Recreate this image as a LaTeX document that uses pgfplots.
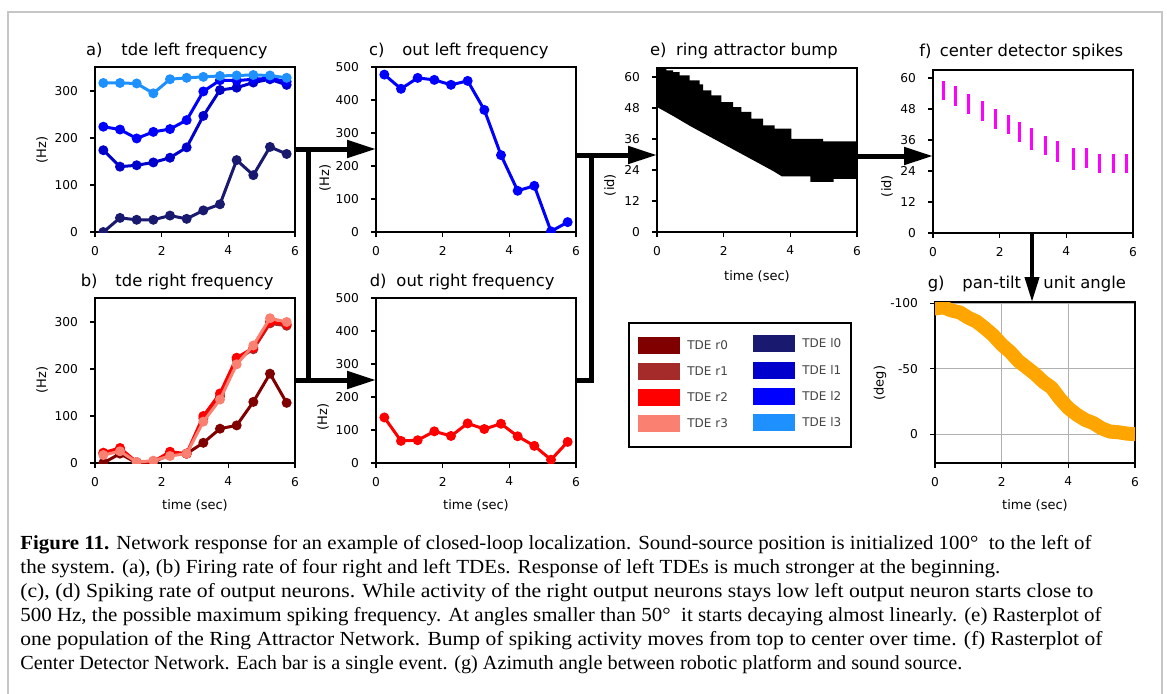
\documentclass[border=0pt]{standalone}
\usepackage{fontspec}
\setmainfont{DejaVu Sans}
\newfontfamily\capfont{Liberation Serif}
\usepackage{graphicx}
\usepackage{pgfplots}
\pgfplotsset{compat=1.18}
\usetikzlibrary{arrows.meta}

\definecolor{tder0}{HTML}{800000}
\definecolor{tder1}{HTML}{A52A2A}
\definecolor{tder2}{HTML}{FF0000}
\definecolor{tder3}{HTML}{FA8072}
\definecolor{tdel0}{HTML}{191970}
\definecolor{tdel1}{HTML}{0000CD}
\definecolor{tdel2}{HTML}{0000FF}
\definecolor{tdel3}{HTML}{1E90FF}
\definecolor{mplorange}{HTML}{FFA500}
\definecolor{mplmagenta}{HTML}{FF00FF}
\definecolor{mplgrid}{HTML}{B0B0B0}
\definecolor{legtext}{HTML}{444444}

\pgfplotsset{
  panel/.style={
    scale only axis, width=100pt,
    xmin=0, xmax=6, xtick={0,2,4,6},
    xtick pos=lower, ytick pos=left,
    tick align=outside, major tick length=2.5pt,
    axis line style={line width=0.7pt},
    every tick/.style={black, line width=0.6pt},
    tick label style={font=\fontsize{6.1}{7}\selectfont},
    xticklabel style={yshift=-1pt},
    yticklabel style={xshift=-2.5pt},
    /pgf/number format/assume math mode=true,
    clip marker paths=true,
  },
  ln/.style={line width=1.5pt, mark=*, mark size=1.7pt, mark options={solid}},
}

% squeeze a caption line to the width it has in the figure
\newcommand\fitline[2]{\setbox0=\hbox{\capfont\fontsize{10}{12}\selectfont #2}%
  \pgfmathsetmacro\sx{#1/\the\wd0}\scalebox{\sx}[1]{\box0}}

\newcommand\ttl{\fontsize{8.2}{9}\selectfont}
\newcommand\lbl{\fontsize{6.5}{7}\selectfont}

\begin{document}
\begin{tikzpicture}

% a) tde left frequency
\begin{axis}[panel, at={(47.5pt,-116pt)}, anchor=south west, height=82.5pt,
  ymin=0, ymax=351, ytick={0,100,200,300}]
\addplot[ln, tdel0] coordinates {(0.25,0) (0.75,30) (1.25,26) (1.75,26) (2.25,35) (2.75,28)
  (3.25,46) (3.75,59) (4.25,153) (4.75,121) (5.25,181) (5.75,166)};
\addplot[ln, tdel1] coordinates {(0.25,174) (0.75,139) (1.25,142) (1.75,148) (2.25,158) (2.75,180)
  (3.25,247) (3.75,302) (4.25,307) (4.75,318) (5.25,325) (5.75,313)};
\addplot[ln, tdel2] coordinates {(0.25,224) (0.75,218) (1.25,199) (1.75,213) (2.25,219) (2.75,238)
  (3.25,299) (3.75,323) (4.25,322) (4.75,325) (5.25,327) (5.75,320)};
\addplot[ln, tdel3] coordinates {(0.25,317) (0.75,317) (1.25,316) (1.75,295) (2.25,325) (2.75,328)
  (3.25,330) (3.75,332) (4.25,333) (4.75,334) (5.25,333) (5.75,328)};
\end{axis}

% b) tde right frequency
\begin{axis}[panel, at={(47.5pt,-231.5pt)}, anchor=south west, height=82.5pt,
  ymin=0, ymax=351, ytick={0,100,200,300}]
\addplot[ln, tder0] coordinates {(0.25,0) (0.75,20) (1.25,0) (1.75,2) (2.25,18) (2.75,20)
  (3.25,43) (3.75,73) (4.25,80) (4.75,130) (5.25,190) (5.75,128)};
\addplot[ln, tder1] coordinates {(0.25,20) (0.75,28) (1.25,1) (1.75,3) (2.25,20) (2.75,20)
  (3.25,95) (3.75,142) (4.25,220) (4.75,242) (5.25,297) (5.75,292)};
\addplot[ln, tder2] coordinates {(0.25,22) (0.75,32) (1.25,2) (1.75,3) (2.25,24) (2.75,20)
  (3.25,100) (3.75,148) (4.25,224) (4.75,245) (5.25,300) (5.75,295)};
\addplot[ln, tder3] coordinates {(0.25,17) (0.75,25) (1.25,2) (1.75,5) (2.25,15) (2.75,20)
  (3.25,88) (3.75,135) (4.25,210) (4.75,250) (5.25,308) (5.75,300)};
\end{axis}

% c) out left frequency
\begin{axis}[panel, at={(188pt,-116pt)}, anchor=south west, height=82.5pt,
  ymin=0, ymax=500, ytick={0,100,200,300,400,500}]
\addplot[ln, tdel2] coordinates {(0.25,477) (0.75,434) (1.25,467) (1.75,461) (2.25,446) (2.75,458)
  (3.25,370) (3.75,233) (4.25,125) (4.75,140) (5.25,2) (5.75,30)};
\end{axis}

% d) out right frequency
\begin{axis}[panel, at={(188pt,-231.5pt)}, anchor=south west, height=82.5pt,
  ymin=0, ymax=500, ytick={0,100,200,300,400,500}]
\addplot[ln, tder2] coordinates {(0.25,138) (0.75,67) (1.25,69) (1.75,96) (2.25,82) (2.75,120)
  (3.25,103) (3.75,119) (4.25,81) (4.75,52) (5.25,10) (5.75,64)};
\end{axis}

% e) ring attractor bump
\begin{axis}[panel, at={(328.5pt,-116pt)}, anchor=south west, height=82pt,
  ymin=0, ymax=63.5, ytick={0,12,24,36,48,60}]
\addplot[fill=black, draw=none] coordinates {
  (0,64) (0.28,64) (0.28,62.6) (0.48,62.6) (0.48,61.9) (0.68,61.9) (0.68,60.6)
  (0.98,60.6) (0.98,58.7) (1.28,58.7) (1.28,57.2) (1.38,57.2) (1.38,54.8)
  (1.63,54.8) (1.63,52.9) (1.93,52.9) (1.93,50.3) (2.28,50.3) (2.28,48.4)
  (2.53,48.4) (2.53,46.5) (2.83,46.5) (2.83,43.9) (3.18,43.9) (3.18,41.3)
  (3.53,41.3) (3.53,40) (4.03,40) (4.03,36.1) (4.98,36.1) (4.98,35.1) (6,35.1)
  (6,20.6) (5.3,20.6) (5.3,19.4) (4.6,19.4) (4.6,21.5) (3.75,21.5) (3.5,23.5)
  (3,27) (2.5,30.5) (2,34) (1.5,37.5) (1,41) (0.5,44.8) (0,48.4)};
\end{axis}

% f) center detector spikes
\begin{axis}[panel, at={(466.5pt,-116.5pt)}, anchor=south west, height=81.5pt,
  ymin=0, ymax=63.1, ytick={0,12,24,36,48,60}]
\addplot[mplmagenta, line width=1.5pt, unbounded coords=jump] coordinates {
  (0.30,51.4) (0.30,59.0) (0.30,nan)
  (0.67,49.3) (0.67,56.8) (0.67,nan)
  (1.05,46.2) (1.05,53.9) (1.05,nan)
  (1.47,43.2) (1.47,51.0) (1.47,nan)
  (1.88,40.3) (1.88,48.0) (1.88,nan)
  (2.25,38.3) (2.25,45.8) (2.25,nan)
  (2.58,35.1) (2.58,42.8) (2.58,nan)
  (2.96,32.3) (2.96,40.6) (2.96,nan)
  (3.38,30.3) (3.38,37.7) (3.38,nan)
  (3.72,27.4) (3.72,35.7) (3.72,nan)
  (4.20,24.3) (4.20,32.9) (4.20,nan)
  (4.60,25.2) (4.60,32.9) (4.60,nan)
  (5.00,23.2) (5.00,30.7) (5.00,nan)
  (5.40,23.2) (5.40,30.7) (5.40,nan)
  (5.80,23.2) (5.80,30.7)};
\end{axis}

% g) pan-tilt unit angle
\begin{axis}[panel, at={(467.5pt,-231.5pt)}, anchor=south west, height=80.5pt,
  ymin=-101, ymax=22, y dir=reverse, ytick={-100,-50,0}, yticklabels={-100,-50,0},
  grid=major, grid style={mplgrid, line width=0.6pt}]
\addplot[mplorange, line width=7pt, line cap=round, line join=round] coordinates {
  (0,-96) (0.25,-97) (0.5,-94.5) (0.75,-93) (1.0,-89) (1.25,-86) (1.5,-81) (1.75,-75.5)
  (2.0,-68.5) (2.25,-63) (2.5,-56) (2.75,-51) (3.0,-46) (3.25,-40) (3.5,-35.5) (3.75,-27)
  (4.0,-20) (4.25,-15) (4.5,-11) (4.75,-8.5) (5.0,-4.5) (5.25,-2) (5.5,-1.5) (5.75,-0.5) (6.0,0)};
\end{axis}

\begin{scope}[x=0.5pt, y=-0.5pt]
% frame
\draw[gray!45, line width=0.75pt] (8,710) -- (8,12) -- (1162,12) -- (1162,710);

% titles
\node[anchor=base east, inner sep=0] at (103,55) {\ttl a)};
\node[anchor=base, inner sep=0] at (194.5,55) {\ttl tde left frequency};
\node[anchor=base east, inner sep=0] at (98,286) {\ttl b)};
\node[anchor=base, inner sep=0] at (194.5,286) {\ttl tde right frequency};
\node[anchor=base east, inner sep=0] at (385,55) {\ttl c)};
\node[anchor=base, inner sep=0] at (475.5,55) {\ttl out left frequency};
\node[anchor=base east, inner sep=0] at (387,286) {\ttl d)};
\node[anchor=base, inner sep=0] at (475.5,286) {\ttl out right frequency};
\node[anchor=base east, inner sep=0] at (667,55) {\ttl e)};
\node[anchor=base, inner sep=0] at (757,55) {\ttl ring attractor bump};
\node[anchor=base east, inner sep=0] at (932,56) {\ttl f)};
\node[anchor=base, inner sep=0] at (1031.5,56) {\ttl center detector spikes};
\node[anchor=base east, inner sep=0] at (945,288) {\ttl g)};
\node[anchor=base west, inner sep=0] at (962,288) {\ttl pan-tilt};
\node[anchor=base west, inner sep=0] at (1043,288) {\ttl unit angle};

% axis labels
\node[rotate=90, inner sep=0] at (42,150) {\lbl (Hz)};
\node[rotate=90, inner sep=0] at (42,380) {\lbl (Hz)};
\node[rotate=90, inner sep=0] at (325,178) {\lbl (Hz)};
\node[rotate=90, inner sep=0] at (323,417) {\lbl (Hz)};
\node[rotate=90, inner sep=0] at (610,185) {\lbl (id)};
\node[rotate=90, inner sep=0] at (887,186) {\lbl (id)};
\node[rotate=90, inner sep=0] at (880,383) {\lbl (deg)};
\node[inner sep=0] at (195,505) {\lbl time (sec)};
\node[inner sep=0] at (476,505) {\lbl time (sec)};
\node[inner sep=0] at (757,276) {\lbl time (sec)};
\node[inner sep=0] at (1035,505) {\lbl time (sec)};

% arrows
\begin{scope}[line width=2.5pt, >={Triangle[length=14.5pt, width=8.5pt]}]
\draw[->] (296,149) -- (376,149);
\draw[->] (296,380) -- (376,380);
\draw (308,148) -- (308,381);
\draw[->] (577,155) -- (657,155);
\draw (591,154) -- (591,380) -- (577,380);
\draw[->] (858,156) -- (933,156);
\end{scope}
\draw[line width=2pt, -{Triangle[length=12.5pt, width=7pt]}] (1032,234) -- (1032,302);

% legend
\draw[black, line width=1pt, fill=white] (629,323) rectangle (851,447);
\foreach \c/\y/\t in {tder0/345/r0, tder1/371/r1, tder2/397/r2, tder3/423/r3}{
  \fill[\c] (638,\y-8.5) rectangle (680,\y+8.5);
  \node[anchor=west, inner sep=0, text=legtext] at (687,\y) {\fontsize{6}{7}\selectfont TDE \t};
}
\foreach \c/\y/\t in {tdel0/343/l0, tdel1/370/l1, tdel2/396/l2, tdel3/422/l3}{
  \fill[\c] (753,\y-8.5) rectangle (795,\y+8.5);
  \node[anchor=west, inner sep=0, text=legtext] at (802,\y) {\fontsize{6}{7}\selectfont TDE \t};
}

% caption
\node[anchor=base west, inner sep=0] at (20,549) {\fitline{535.5}{\textbf{Figure 11.} Network response for an example of closed-loop localization. Sound-source position is initialized 100°\ \ to the left of}};
\node[anchor=base west, inner sep=0] at (20,573) {\fitline{490}{the system. (a), (b) Firing rate of four right and left TDEs. Response of left TDEs is much stronger at the beginning.}};
\node[anchor=base west, inner sep=0] at (20,597) {\fitline{536.5}{(c), (d) Spiking rate of output neurons. While activity of the right output neurons stays low left output neuron starts close to}};
\node[anchor=base west, inner sep=0] at (20,621) {\fitline{540.5}{500 Hz, the possible maximum spiking frequency. At angles smaller than 50°\ \ it starts decaying almost linearly. (e) Rasterplot of}};
\node[anchor=base west, inner sep=0] at (20,645) {\fitline{541}{one population of the Ring Attractor Network. Bump of spiking activity moves from top to center over time. (f) Rasterplot of}};
\node[anchor=base west, inner sep=0] at (20,669) {\fitline{471}{Center Detector Network. Each bar is a single event. (g) Azimuth angle between robotic platform and sound source.}};

\pgfresetboundingbox
\useasboundingbox (0,0) rectangle (1167,693);
\end{scope}
\end{tikzpicture}
\end{document}
